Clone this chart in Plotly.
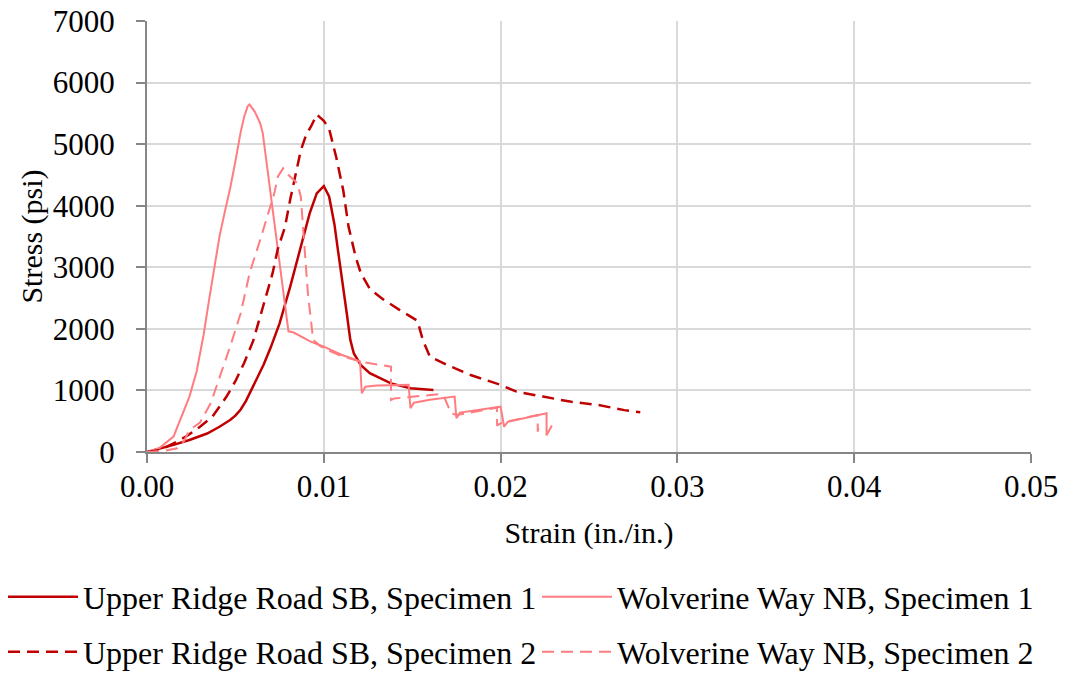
import plotly.graph_objects as go

# Stress-strain curves (strain in in./in., stress in psi)
urr1_strain = [0, 0.0004, 0.0015, 0.0024, 0.0034, 0.0041, 0.0047, 0.0050, 0.0053, 0.0056,
               0.0059, 0.0063, 0.0066, 0.0070, 0.0075, 0.0081, 0.0087, 0.0092, 0.0096,
               0.0100, 0.0103, 0.0106, 0.0108, 0.0111, 0.0113, 0.0115, 0.0117, 0.0121,
               0.0126, 0.0138, 0.0149, 0.0162]
urr1_stress = [0, 30, 115, 195, 300, 410, 520, 590, 690, 830,
               1000, 1250, 1420, 1700, 2090, 2685, 3334, 3876, 4201,
               4320, 4150, 3700, 3280, 2700, 2250, 1820, 1600, 1410,
               1280, 1115, 1035, 1005]

urr2_strain = [0, 0.0007, 0.0015, 0.0022, 0.0030, 0.0037, 0.0045, 0.0050, 0.0055, 0.0060,
               0.0066, 0.0071, 0.0074, 0.0078, 0.0081, 0.0084, 0.0087, 0.0090, 0.0093,
               0.0096, 0.0100, 0.0103, 0.0107, 0.0111, 0.0114, 0.0118, 0.0121, 0.0126,
               0.0134, 0.0143, 0.0153, 0.0156, 0.0160, 0.0170, 0.0183, 0.0200, 0.0209,
               0.0224, 0.0240, 0.0255, 0.0270, 0.0279]
urr2_stress = [0, 30, 140, 250, 410, 575, 900, 1150, 1450, 1800,
               2400, 2900, 3300, 3650, 4100, 4530, 4900, 5150, 5300,
               5480, 5380, 5250, 4790, 4250, 3660, 3170, 2900, 2650,
               2470, 2305, 2130, 1820, 1550, 1410, 1250, 1090, 980,
               900, 815, 765, 680, 645]

ww1_strain = [0, 0.0007, 0.0015, 0.0020, 0.0024, 0.0028, 0.0032, 0.0035, 0.0038, 0.0041,
              0.0044, 0.0047, 0.0050, 0.0053, 0.0055, 0.0057, 0.0058, 0.0061, 0.0064,
              0.00655, 0.0080, 0.0083, 0.0092, 0.0100, 0.0110, 0.01205, 0.01215, 0.01235,
              0.0130, 0.0148, 0.0149, 0.0151, 0.0160, 0.0174, 0.0175, 0.0177, 0.0200,
              0.0202, 0.0204, 0.0226, 0.0226, 0.0229]
ww1_stress = [0, 65, 250, 600, 900, 1300, 1900, 2450, 3000, 3500,
              3900, 4280, 4720, 5200, 5450, 5620, 5645, 5525, 5340,
              5175, 1960, 1940, 1800, 1710, 1580, 1470, 955, 1060,
              1080, 1090, 710, 800, 850, 900, 550, 640, 735,
              410, 490, 630, 270, 430]

ww2_strain = [0, 0.0010, 0.0017, 0.0021, 0.0024, 0.0030, 0.0036, 0.0040, 0.0047, 0.0053,
              0.0058, 0.0064, 0.0068, 0.0072, 0.0074, 0.0077, 0.0080, 0.0085, 0.0087,
              0.00885, 0.0091, 0.0094, 0.0098, 0.0102, 0.0110, 0.0121, 0.0138, 0.0138,
              0.0140, 0.0166, 0.0168, 0.0172, 0.0175, 0.0198, 0.0198, 0.0201, 0.0221,
              0.0221, 0.0222]
ww2_stress = [0, 20, 60, 180, 357, 480, 790, 1115, 1710, 2252,
              2902, 3443, 3821, 4201, 4471, 4607, 4498, 4363, 4146,
              3551, 2577, 1819, 1720, 1655, 1560, 1465, 1385, 845,
              870, 940, 900, 630, 600, 720, 430, 480, 600,
              330, 500]

DARK = "#C00000"
LIGHT = "#FF7C80"
FONT = "Liberation Serif"
DASH = "12px,7px"

fig = go.Figure()
fig.add_trace(go.Scatter(x=urr1_strain, y=urr1_stress, mode="lines",
                         name="Upper Ridge Road SB, Specimen 1",
                         line=dict(color=DARK, width=2.5), legend="legend"))
fig.add_trace(go.Scatter(x=ww1_strain, y=ww1_stress, mode="lines",
                         name="Wolverine Way NB, Specimen 1",
                         line=dict(color=LIGHT, width=2), legend="legend2"))
fig.add_trace(go.Scatter(x=urr2_strain, y=urr2_stress, mode="lines",
                         name="Upper Ridge Road SB, Specimen 2",
                         line=dict(color=DARK, width=2.5, dash=DASH), legend="legend3"))
fig.add_trace(go.Scatter(x=ww2_strain, y=ww2_stress, mode="lines",
                         name="Wolverine Way NB, Specimen 2",
                         line=dict(color=LIGHT, width=2, dash=DASH), legend="legend4"))

axis_common = dict(
    showline=True, linecolor="#868686", linewidth=2,
    showgrid=True, gridcolor="#D9D9D9", gridwidth=2,
    zeroline=False, ticks="outside", ticklen=9, tickwidth=2, tickcolor="#868686",
    tickfont=dict(family=FONT, size=31, color="black"),
)

fig.update_xaxes(range=[0, 0.05], dtick=0.01, tick0=0, tickformat=".2f",
                 ticklabelstandoff=-3,
                 title=dict(text="Strain (in./in.)", font=dict(family=FONT, size=30, color="black"),
                            standoff=19),
                 **axis_common)
fig.update_yaxes(range=[0, 7000], dtick=1000, tick0=0, tickformat="d",
                 ticklabelstandoff=15,
                 title=dict(text="Stress (psi)", font=dict(family=FONT, size=30, color="black"),
                            standoff=1),
                 **axis_common)

legend_common = dict(
    orientation="h", xref="container", yref="container",
    xanchor="left", yanchor="middle",
    font=dict(family=FONT, size=32, color="black"),
    bgcolor="rgba(0,0,0,0)", itemwidth=70,
)

col1_x = 3 / 1065
col2_x = 537 / 1065
row1_y = 1 - 597 / 674
row2_y = 1 - 652 / 674

fig.update_layout(
    width=1065, height=674,
    margin=dict(l=147, r=34, t=21, b=222, autoexpand=False),
    paper_bgcolor="white", plot_bgcolor="white",
    font=dict(family=FONT, size=30, color="black"),
    showlegend=True,
    legend=dict(x=col1_x, y=row1_y, **legend_common),
    legend2=dict(x=col2_x, y=row1_y, **legend_common),
    legend3=dict(x=col1_x, y=row2_y, **legend_common),
    legend4=dict(x=col2_x, y=row2_y, **legend_common),
)

fig.write_html("out.html")
